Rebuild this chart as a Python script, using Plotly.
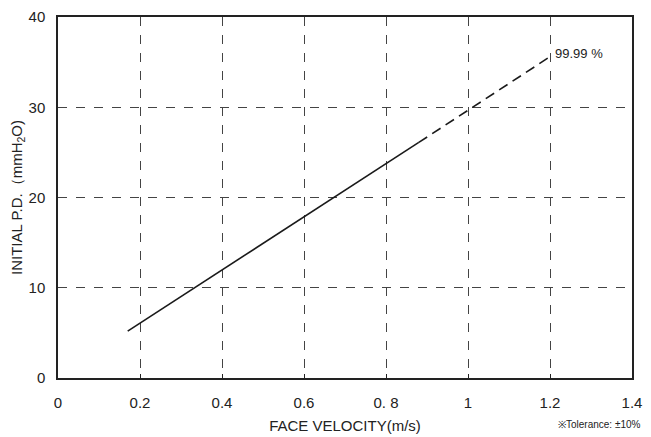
import plotly.graph_objects as go

# Initial pressure drop vs. face velocity (99.99 % grade)
solid_x = [0.17, 0.88]
solid_y = [5.2, 26.1]
dash_x = [0.88, 1.2]
dash_y = [26.1, 35.6]
series_label = "99.99 %"

x_ticks = [0, 0.2, 0.4, 0.6, 0.8, 1, 1.2, 1.4]
x_tick_text = ["0", "0.2", "0.4", "0.6", "0. 8", "1", "1.2", "1.4"]
y_ticks = [0, 10, 20, 30, 40]

font_family = "Liberation Sans, Arial, sans-serif"

fig = go.Figure()
fig.add_trace(go.Scatter(x=solid_x, y=solid_y, mode="lines",
                         line=dict(color="#1a1a1a", width=1.6),
                         showlegend=False, hoverinfo="skip"))
fig.add_trace(go.Scatter(x=dash_x, y=dash_y, mode="lines",
                         line=dict(color="#1a1a1a", width=1.6, dash="10px,6px"),
                         showlegend=False, hoverinfo="skip"))

fig.add_annotation(x=dash_x[-1], y=dash_y[-1], text=series_label,
                   showarrow=False, xanchor="left", yanchor="middle",
                   xshift=3, yshift=3,
                   font=dict(size=13, color="#222", family=font_family))

fig.add_annotation(xref="paper", yref="paper", x=1.02, y=-0.128,
                   text="※Tolerance: ±10%", showarrow=False,
                   xanchor="right", yanchor="middle",
                   font=dict(size=10, color="#222", family=font_family))

fig.update_xaxes(range=[0, 1.4], tickvals=x_ticks, ticktext=x_tick_text,
                 showline=True, mirror=True, linecolor="#222", linewidth=1.5,
                 showgrid=True, gridcolor="#444", gridwidth=1, griddash="dash",
                 ticks="inside", ticklen=4, tickcolor="#222",
                 zeroline=False, ticklabelstandoff=10, automargin=False,
                 tickfont=dict(size=15, color="#222", family=font_family),
                 title=dict(text="FACE VELOCITY(m/s)", standoff=11,
                            font=dict(size=15, color="#222", family=font_family)))
fig.update_yaxes(range=[0, 40], tickvals=y_ticks,
                 showline=True, mirror=True, linecolor="#222", linewidth=1.5,
                 showgrid=True, gridcolor="#444", gridwidth=1, griddash="dash",
                 ticks="", zeroline=False, ticklabelstandoff=8, automargin=False,
                 tickfont=dict(size=15, color="#222", family=font_family),
                 title=dict(text="INITIAL P.D.（mmH<sub>2</sub>O)", standoff=2,
                            font=dict(size=15, color="#222", family=font_family)))

fig.update_layout(width=651, height=437,
                  margin=dict(l=58, r=19, t=17, b=59),
                  paper_bgcolor="white", plot_bgcolor="white")

fig.write_html("out.html")
